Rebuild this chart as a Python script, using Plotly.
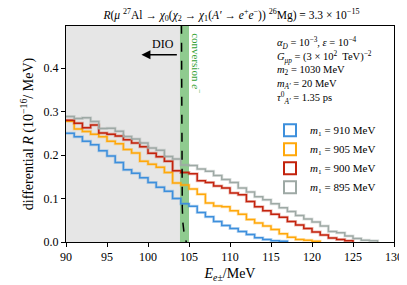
import numpy as np
import plotly.graph_objects as go

# ---------------- data ----------------
bin_start = 90  # MeV, left edge of first bin, 1 MeV bins
labels = ["<i>m</i>₁ = 910 MeV", "<i>m</i>₁ = 905 MeV",
          "<i>m</i>₁ = 900 MeV", "<i>m</i>₁ = 895 MeV"]
colors = ["#3d8fdc", "#ffa80a", "#c3230d", "#9ea9a5"]

R_910 = [0.250, 0.242, 0.232, 0.224, 0.210, 0.198, 0.183, 0.166, 0.158, 0.148,
         0.137, 0.126, 0.117, 0.100, 0.088, 0.082, 0.068, 0.058, 0.047, 0.038,
         0.031, 0.024, 0.017, 0.010, 0.006, 0.003, 0.002]
R_905 = [0.278, 0.260, 0.254, 0.248, 0.242, 0.232, 0.226, 0.213, 0.205, 0.186,
         0.179, 0.172, 0.160, 0.136, 0.131, 0.122, 0.110, 0.090, 0.083, 0.081,
         0.072, 0.064, 0.052, 0.044, 0.037, 0.029, 0.019, 0.011, 0.006, 0.004,
         0.002]
R_900 = [0.280, 0.273, 0.263, 0.269, 0.251, 0.248, 0.244, 0.235, 0.228, 0.219,
         0.204, 0.196, 0.186, 0.164, 0.160, 0.157, 0.141, 0.137, 0.129, 0.124,
         0.113, 0.109, 0.093, 0.081, 0.072, 0.064, 0.057, 0.047, 0.039, 0.031,
         0.023, 0.016, 0.009, 0.006, 0.003]
R_895 = [0.289, 0.284, 0.286, 0.277, 0.261, 0.262, 0.255, 0.243, 0.237, 0.228,
         0.216, 0.211, 0.197, 0.191, 0.177, 0.176, 0.168, 0.163, 0.153, 0.144,
         0.137, 0.124, 0.115, 0.104, 0.097, 0.088, 0.079, 0.070, 0.061, 0.053,
         0.046, 0.037, 0.024, 0.021, 0.014, 0.008, 0.004, 0.003]
series = [R_910, R_905, R_900, R_895]

dio_E = [104.08, 104.10, 104.13, 104.18, 104.25, 104.33, 104.45, 104.60, 104.70]
dio_R = [0.50, 0.30, 0.15, 0.08, 0.045, 0.025, 0.012, 0.003, 0.0]

dio_region = (90, 103.9)
conversion_band = (103.9, 105.0)

x_ticks = [90, 95, 100, 105, 110, 115, 120, 125, 130]
y_ticks = [0.0, 0.1, 0.2, 0.3, 0.4]

param_lines = [
    "<i>α<sub>D</sub></i> = 10<sup>−3</sup>, <i>ε</i> = 10<sup>−4</sup>",
    "<i>G<sub>μp</sub></i> = (3 × 10<sup>2</sup>  TeV)<sup>−2</sup>",
    "<i>m</i><sub>2</sub> = 1030 MeV",
    "<i>m<sub>A′</sub></i> = 20 MeV",
    "<i>τ</i><sup>0</sup><sub><i>A′</i></sub> = 1.35 ps",
]

FONT = "Liberation Serif"

fig = go.Figure()

# shaded regions
fig.add_shape(type="rect", xref="x", yref="paper", x0=dio_region[0], x1=dio_region[1],
              y0=0, y1=1, fillcolor="#e6e6e6", line_width=0, layer="below")
fig.add_shape(type="rect", xref="x", yref="paper", x0=conversion_band[0], x1=conversion_band[1],
              y0=0, y1=1, fillcolor="#8fcb8f", line_width=0, layer="below")

# histograms
for vals, col, lab in zip(series, colors, labels):
    edges = bin_start + np.arange(len(vals) + 1)
    ys = list(vals) + [0.0]
    fig.add_trace(go.Scatter(x=edges, y=ys, mode="lines", line_shape="hv",
                             line=dict(color=col, width=3.0), opacity=0.3,
                             showlegend=False, hoverinfo="skip"))
    fig.add_trace(go.Scatter(x=edges, y=ys, mode="lines", line_shape="hv",
                             line=dict(color=col, width=1.5), showlegend=False))
    # legend entry (outlined box)
    fig.add_trace(go.Bar(x=[None], y=[None], name=lab,
                         marker=dict(color="rgba(255,255,255,0)",
                                     line=dict(color=col, width=2))))

# DIO curve
fig.add_trace(go.Scatter(x=dio_E, y=dio_R, mode="lines",
                         line=dict(color="black", width=1.5, dash="dash"),
                         showlegend=False))

# DIO arrow and label
fig.add_annotation(x=99.2, y=0.431, ax=103.7, ay=0.431, xref="x", yref="y",
                   axref="x", ayref="y", text="", showarrow=True,
                   arrowhead=2, arrowsize=1.2, arrowwidth=1.5, arrowcolor="black")
fig.add_annotation(x=101.8, y=0.455, xref="x", yref="y", text="DIO", showarrow=False,
                   font=dict(family=FONT, size=12, color="black"))

# conversion label
fig.add_annotation(x=105.95, y=0.412, xref="x", yref="y", text="conversion <i>e</i><sup>−</sup>",
                   textangle=90, showarrow=False,
                   font=dict(family=FONT, size=11, color="#34a234"))

# parameter block
for i, line in enumerate(param_lines):
    fig.add_annotation(x=0.636, y=0.92 - i * 0.063, xref="paper", yref="paper",
                       xanchor="left", yanchor="middle", text=line, showarrow=False,
                       font=dict(family=FONT, size=10.5, color="black"))

# page body has an 8px margin, so the figure is sized/offset to fit the 407x285 window
fig.update_layout(
    width=399, height=277,
    margin=dict(l=58, r=13, t=18, b=43, autoexpand=False),
    plot_bgcolor="white", paper_bgcolor="white",
    font=dict(family=FONT, size=12, color="black"),
    title=dict(text="<i>R</i>(<i>μ</i> <sup>27</sup>Al → <i>χ</i><sub>0</sub>(<i>χ</i><sub>2</sub> → "
                    "<i>χ</i><sub>1</sub>(<i>A′</i> → <i>e</i><sup>+</sup><i>e</i><sup>−</sup>)) "
                    "<sup>26</sup>Mg) = 3.3 × 10<sup>−15</sup>",
               x=0.56, xanchor="center", y=0.975, yanchor="middle",
               font=dict(family=FONT, size=11.5)),
    showlegend=True,
    legend=dict(x=0.622, y=0.585, xanchor="left", yanchor="top",
                bgcolor="rgba(0,0,0,0)", font=dict(family=FONT, size=11),
                tracegroupgap=0, itemwidth=30),
    barmode="overlay",
)
fig.update_xaxes(range=[90, 130], tickvals=x_ticks, ticks="outside", ticklen=4,
                 tickcolor="black", showline=True, linecolor="black", linewidth=1,
                 mirror=True, showgrid=False, zeroline=False, automargin=False,
                 title=dict(text="<i>E</i><sub><i>e</i>±</sub>/MeV", standoff=4))
fig.update_yaxes(range=[0, 0.497], tickvals=y_ticks, tickformat=".1f", ticks="outside",
                 ticklen=4, tickcolor="black", showline=True, linecolor="black",
                 linewidth=1, mirror=True, showgrid=False, zeroline=False, automargin=False,
                 title=dict(text="differential <i>R</i> (10<sup>−16</sup>/ MeV)", standoff=6))

fig.write_html("out.html")
